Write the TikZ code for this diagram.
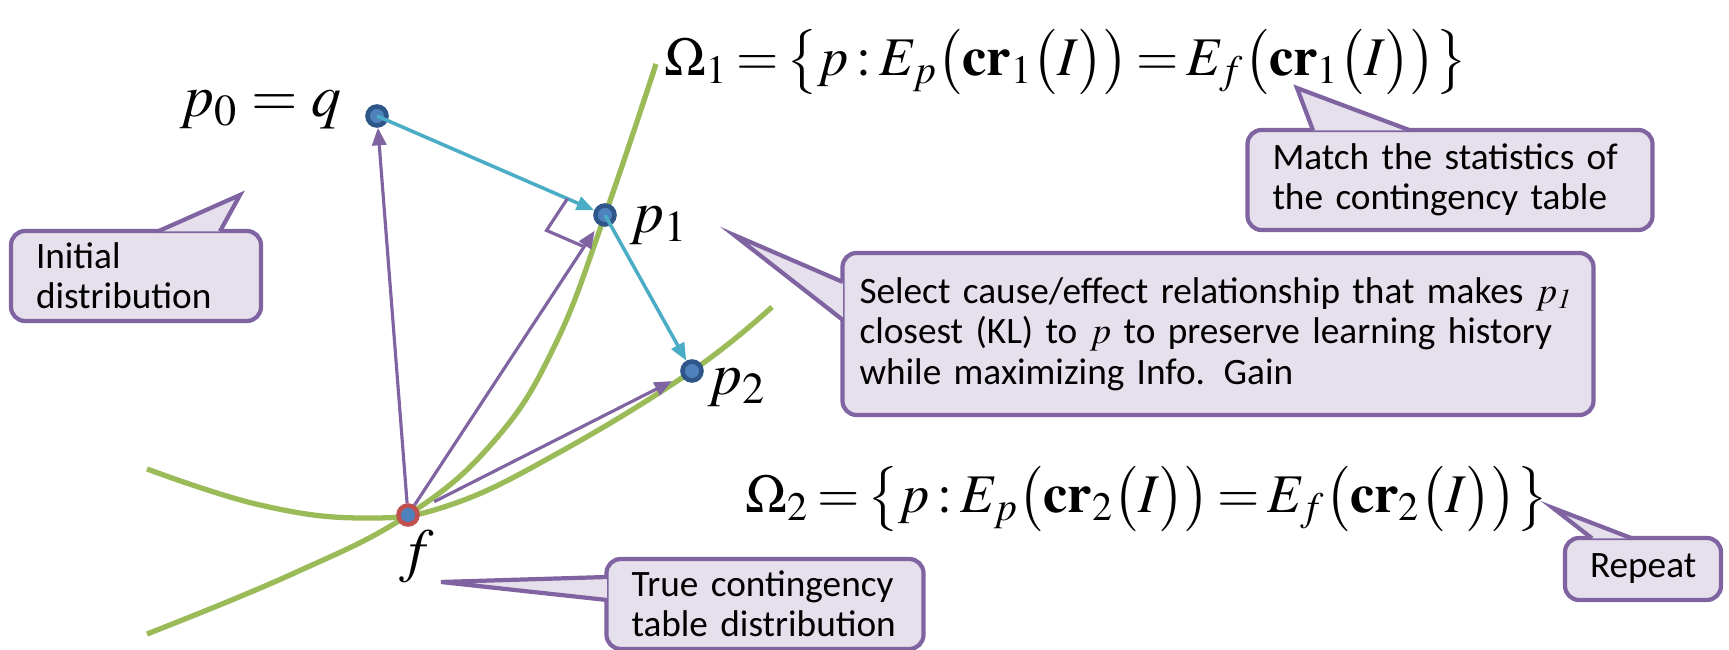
\documentclass[tikz,border=0pt]{standalone}
\usepackage{mathptmx}
\usepackage[no-math]{fontspec}
\setsansfont{Carlito}
\usetikzlibrary{arrows.meta, calc}
\definecolor{cPurple}{HTML}{8064A2}
\definecolor{cNote}{HTML}{E5E0EC}
\definecolor{cGreen}{HTML}{9BBB59}
\definecolor{cCyan}{HTML}{4BACC6}
\definecolor{cDot}{HTML}{4F81BD}
\definecolor{cRing}{HTML}{2F5689}
\definecolor{cRed}{HTML}{C0504D}

\begin{document}
\begin{tikzpicture}[
    x=1cm, y=1cm, font=\sffamily,
    note/.style={draw=cPurple, line width=1.2pt, rounded corners=4pt, fill=cNote,
                 font=\sffamily\fontsize{10.6}{11.5}\selectfont, align=left,
                 inner xsep=0.25cm},
    tail/.style={draw=cPurple, line width=1.2pt, fill=cNote},
    dot/.style={circle, draw=cRing, fill=cDot, line width=1.3pt, inner sep=0pt,
                minimum size=0.19cm},
    curve/.style={draw=cGreen, line width=1.5pt},
    lift/.style={-{Triangle[length=5pt, width=4pt]}, line width=0.9pt, cPurple},
    flow/.style={-{Triangle[length=5pt, width=4pt]}, line width=1pt, cCyan},
    perp/.style={draw=cPurple, line width=0.9pt},
    lbl/.style={font=\fontsize{17}{20}\selectfont, inner sep=1pt},
    eqn/.style={font=\fontsize{15.5}{18}\selectfont, inner sep=0pt,
                execute at begin node={\thickmuskip=2.5mu\medmuskip=1mu}},
]
\useasboundingbox (0,0) rectangle (17.29,6.50);

% ===========================================================================
% Curvas de restricciones
% ===========================================================================
\draw[curve] plot[smooth, tension=0.7] coordinates
      {(1.47,0.16) (2.90,0.75) (4.08,1.35) (4.95,2.10) (5.55,3.05) (6.05,4.35) (6.56,5.86)};
\draw[curve] plot[smooth, tension=0.7] coordinates
      {(1.47,1.81) (2.60,1.45) (3.64,1.32) (4.50,1.45) (5.60,1.98) (6.92,2.79) (7.72,3.43)};

% ----- puntos -----
\node[dot] (p0) at (3.77,5.34) {};
\node[dot] (p1) at (6.05,4.35) {};
\node[dot] (p2) at (6.92,2.79) {};
\node[dot, draw=cRed] (f) at (4.08,1.35) {};

\node[lbl] (lp0) at (2.61,5.40) {$p_0 = q$};
\node[lbl] (lp1) at (6.59,4.24) {$p_1$};
\node[lbl] (lp2) at (7.37,2.62) {$p_2$};
\node[lbl] (lf)  at (4.17,0.93) {$f$};

% ----- proyecciones -----
\draw[lift] (f) -- (p0);
\draw[lift, shorten >=2pt] (f) -- (p1);
\draw[lift, shorten >=3pt, shorten <=5pt] (f) -- (p2);
\draw[flow] (p0.center) -- (p1);
\draw[flow] (p1.center) -- (p2);

\coordinate (ra) at ($(p1.center)!0.41cm!(p0.center)$);
\coordinate (rb) at ($(p1.center)!0.38cm!(f.center)$);
\draw[perp] (ra) -- ($(ra)+(rb)-(p1.center)$) -- (rb);

% ===========================================================================
% Conjuntos
% ===========================================================================
\node[eqn] (om1) at (10.66,5.88)
      {$\Omega_1 = \bigl\{ p : E_p\bigl(\mathbf{cr}_1\bigl(I\bigr)\bigr)
        = E_f\bigl(\mathbf{cr}_1\bigl(I\bigr)\bigr)\bigr\}$};
\node[eqn] (om2) at (11.47,1.51)
      {$\Omega_2 = \bigl\{ p : E_p\bigl(\mathbf{cr}_2\bigl(I\bigr)\bigr)
        = E_f\bigl(\mathbf{cr}_2\bigl(I\bigr)\bigr)\bigr\}$};

% ===========================================================================
% Notas
% ===========================================================================
\node[note, text width=2.00cm, minimum height=0.88cm] (init) at (1.36,3.74)
      {Initial\\distribution};
\coordinate (initTip) at (2.40,4.55);
\draw[tail] ([xshift=0.22cm, yshift=-0.7pt]init.north) -- (initTip)
      -- ([xshift=0.84cm, yshift=-0.7pt]init.north);

\node[note, text width=3.55cm, minimum height=1.00cm] (match) at (14.50,4.70)
      {Match the statistics of\\the contingency table};
\coordinate (matchTip) at (12.97,5.62);
\draw[tail] ([xshift=-1.37cm, yshift=-0.7pt]match.north) -- (matchTip)
      -- ([xshift=-0.40cm, yshift=-0.7pt]match.north);

\node[note, text width=7.17cm, inner xsep=0.17cm, minimum height=1.62cm] (sel)
      at (12.18,3.16)
      {Select cause/effect relationship that makes {\rmfamily$p_{\mathit{1}}$}\\
       closest (KL) to {\rmfamily$p$} to preserve learning history\\
       while maximizing Info. Gain};
\coordinate (selTip) at (7.34,4.15);
\draw[tail] ([yshift=0.52cm, xshift=0.7pt]sel.west) -- (selTip)
      -- ([yshift=0.14cm, xshift=0.7pt]sel.west);

\node[note, text width=2.67cm, minimum height=0.84cm] (truth) at (7.65,0.46)
      {True contingency\\table distribution};
\coordinate (truthTip) at (4.41,0.68);
\draw[tail] ([yshift=0.27cm, xshift=0.7pt]truth.west) -- (truthTip)
      -- ([yshift=0.04cm, xshift=0.7pt]truth.west);

\node[note, text width=1.06cm, minimum height=0.62cm] (rep) at (16.43,0.81)
      {Repeat};
\coordinate (repTip) at (15.53,1.42);
\draw[tail] ([xshift=-0.51cm, yshift=-0.7pt]rep.north) -- (repTip)
      -- ([xshift=-0.11cm, yshift=-0.7pt]rep.north);

\end{tikzpicture}
\end{document}
